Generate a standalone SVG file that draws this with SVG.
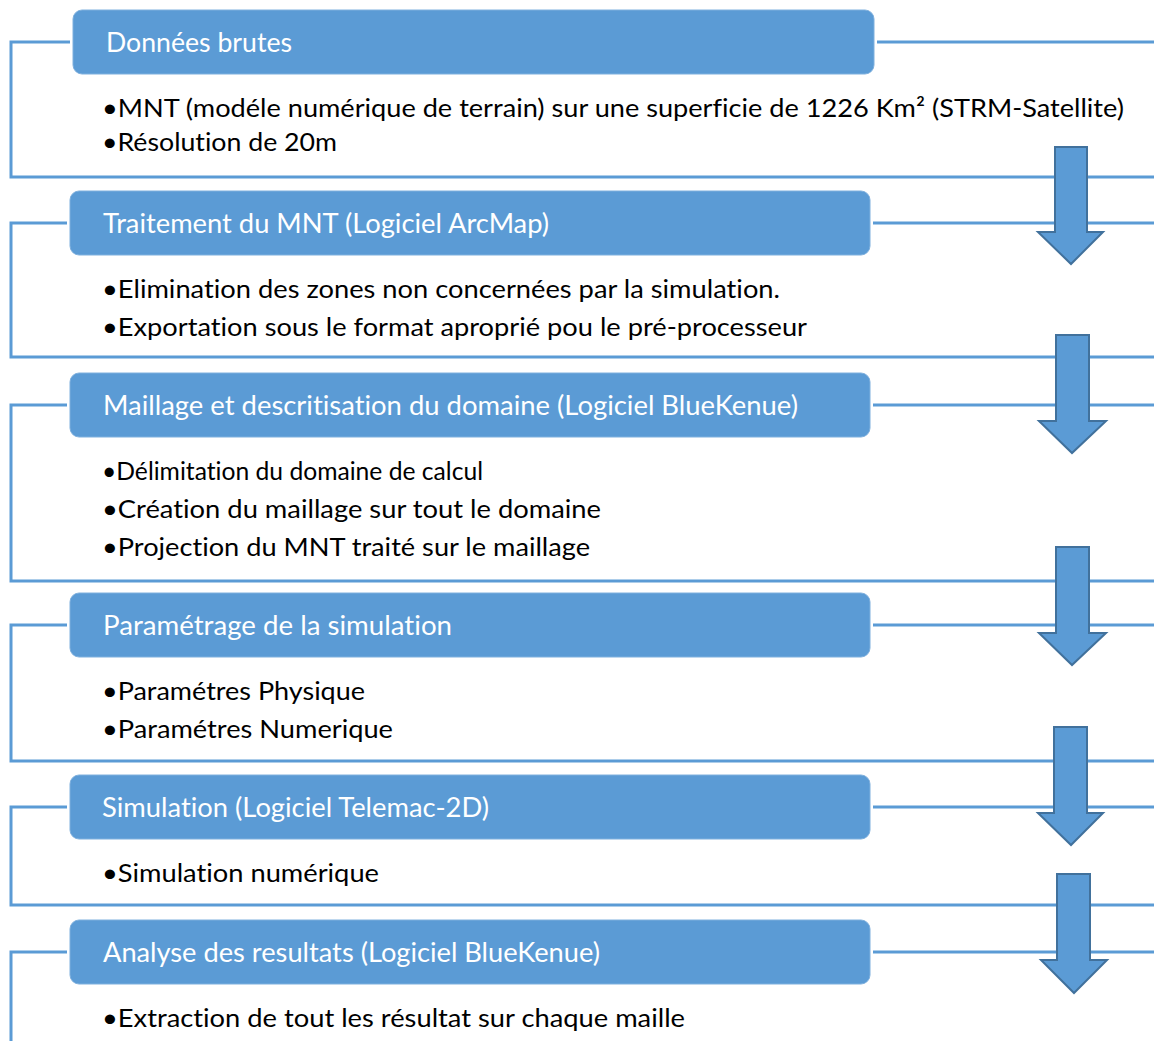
<svg xmlns="http://www.w3.org/2000/svg" width="1154" height="1041" viewBox="0 0 1154 1041">
<defs>
<style>
.ln{fill:none;stroke:#5B9BD5;stroke-width:3}
.box{fill:#5B9BD5;stroke:#7FB0DE;stroke-width:1}
.hd{font-family:Lato,"Liberation Sans",sans-serif;font-size:26px;fill:#FFFFFF;font-variant-ligatures:none}
.bd{font-family:Lato,"Liberation Sans",sans-serif;font-size:25px;fill:#000000;font-variant-ligatures:none}
.ar{fill:#5B9BD5;stroke:#41719C;stroke-width:2}
</style>
</defs>
<rect width="1154" height="1041" fill="#FFFFFF"/>
<g id="connectors">
<path class="ln" d="M70,42 H11 V177 H1154 M877,42 H1154"/>
<path class="ln" d="M67,223 H11 V357 H1154 M873,223 H1154"/>
<path class="ln" d="M67,405 H11 V581 H1154 M873,405 H1154"/>
<path class="ln" d="M67,625 H11 V761 H1154 M873,625 H1154"/>
<path class="ln" d="M67,807 H11 V905 H1154 M873,807 H1154"/>
<path class="ln" d="M67,952 H11 V1045 M873,952 H1154"/>
</g>
<g id="arrows">
<polygon class="ar" points="1055,147 1087,147 1087,232 1103,232 1071,264 1038,232 1055,232"/>
<polygon class="ar" points="1056,335 1089,335 1089,421 1106,421 1072,453 1039,421 1056,421"/>
<polygon class="ar" points="1056,547 1089,547 1089,633 1106,633 1072,665 1039,633 1056,633"/>
<polygon class="ar" points="1054,727 1087,727 1087,813 1103,813 1071,845 1038,813 1054,813"/>
<polygon class="ar" points="1057,874 1090,874 1090,960 1107,960 1074,993 1041,960 1057,960"/>
</g>
<g id="node1">
<rect class="box" x="73" y="10" width="801" height="64" rx="9"/>
<text class="hd" x="106" y="52" textLength="186" lengthAdjust="spacingAndGlyphs">Données brutes</text>
<text class="bd" x="102" y="117" textLength="1022" lengthAdjust="spacingAndGlyphs">•MNT (modéle numérique de terrain) sur une superficie de 1226 Km² (STRM-Satellite)</text>
<text class="bd" x="102" y="151" textLength="235" lengthAdjust="spacingAndGlyphs">•Résolution de 20m</text>
</g>
<g id="node2">
<rect class="box" x="70" y="191" width="800" height="64" rx="9"/>
<text class="hd" x="103" y="233" textLength="446" lengthAdjust="spacingAndGlyphs">Traitement du MNT (Logiciel ArcMap)</text>
<text class="bd" x="102" y="298" textLength="678" lengthAdjust="spacingAndGlyphs">•Elimination des zones non concernées par la simulation.</text>
<text class="bd" x="102" y="336" textLength="705" lengthAdjust="spacingAndGlyphs">•Exportation sous le format aproprié pou le pré-processeur</text>
</g>
<g id="node3">
<rect class="box" x="70" y="373" width="800" height="64" rx="9"/>
<text class="hd" x="103" y="415" textLength="695" lengthAdjust="spacingAndGlyphs">Maillage et descritisation du domaine (Logiciel BlueKenue)</text>
<text class="bd" x="102" y="480" textLength="381" lengthAdjust="spacingAndGlyphs">•Délimitation du domaine de calcul</text>
<text class="bd" x="102" y="518" textLength="499" lengthAdjust="spacingAndGlyphs">•Création du maillage sur tout le domaine</text>
<text class="bd" x="102" y="556" textLength="488" lengthAdjust="spacingAndGlyphs">•Projection du MNT traité sur le maillage</text>
</g>
<g id="node4">
<rect class="box" x="70" y="593" width="800" height="64" rx="9"/>
<text class="hd" x="103" y="635" textLength="349" lengthAdjust="spacingAndGlyphs">Paramétrage de la simulation</text>
<text class="bd" x="102" y="700" textLength="263" lengthAdjust="spacingAndGlyphs">•Paramétres Physique</text>
<text class="bd" x="102" y="738" textLength="291" lengthAdjust="spacingAndGlyphs">•Paramétres Numerique</text>
</g>
<g id="node5">
<rect class="box" x="70" y="775" width="800" height="64" rx="9"/>
<text class="hd" x="102" y="817" textLength="387" lengthAdjust="spacingAndGlyphs">Simulation (Logiciel Telemac-2D)</text>
<text class="bd" x="102" y="882" textLength="277" lengthAdjust="spacingAndGlyphs">•Simulation numérique</text>
</g>
<g id="node6">
<rect class="box" x="70" y="920" width="800" height="64" rx="9"/>
<text class="hd" x="103" y="962" textLength="497" lengthAdjust="spacingAndGlyphs">Analyse des resultats (Logiciel BlueKenue)</text>
<text class="bd" x="102" y="1027" textLength="583" lengthAdjust="spacingAndGlyphs">•Extraction de tout les résultat sur chaque maille</text>
</g>
</svg>
